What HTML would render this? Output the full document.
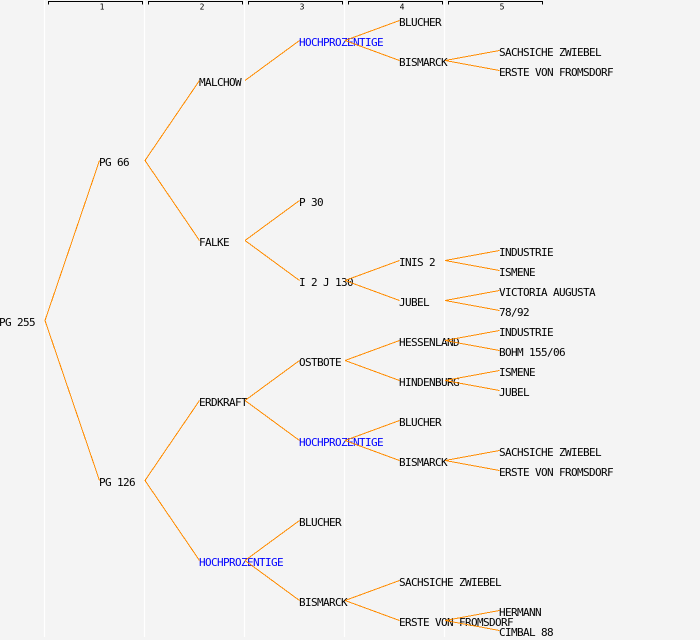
<!DOCTYPE html>
<html>
<head>
<meta charset="utf-8">
<style>
  html,body{margin:0;padding:0;background:#f4f4f4;}
  svg{display:block;}
  .t{font-family:"DejaVu Sans Mono","Liberation Mono",monospace;font-size:11px;letter-spacing:-0.62px;fill:#000;}
  .b{fill:#0000ff;}
  .h{font-family:"DejaVu Sans Mono","Liberation Mono",monospace;font-size:8px;fill:#000;}
  .e line{stroke:#ff8c00;stroke-width:1;}
</style>
</head>
<body>
<svg width="700" height="640" viewBox="0 0 700 640" xmlns="http://www.w3.org/2000/svg">
  <rect x="0" y="0" width="700" height="640" fill="#f4f4f4"/>
  <!-- column separators -->
  <g stroke="#ffffff" stroke-width="1.2">
    <line x1="44.5" y1="0" x2="44.5" y2="637"/>
    <line x1="144.5" y1="0" x2="144.5" y2="637"/>
    <line x1="244.5" y1="0" x2="244.5" y2="637"/>
    <line x1="344.5" y1="0" x2="344.5" y2="637"/>
    <line x1="444.5" y1="0" x2="444.5" y2="637"/>
  </g>
  <!-- header brackets -->
  <g fill="none" stroke="#000" stroke-width="1" shape-rendering="crispEdges">
    <path d="M48.5,4.5 V1.5 H142.5 V4.5"/>
    <path d="M148.5,4.5 V1.5 H242.5 V4.5"/>
    <path d="M248.5,4.5 V1.5 H342.5 V4.5"/>
    <path d="M348.5,4.5 V1.5 H442.5 V4.5"/>
    <path d="M448.5,4.5 V1.5 H542.5 V4.5"/>
  </g>
  <g class="h" text-anchor="middle">
    <text x="102" y="9.5">1</text>
    <text x="202" y="9.5">2</text>
    <text x="302" y="9.5">3</text>
    <text x="402" y="9.5">4</text>
    <text x="502" y="9.5">5</text>
  </g>

  <!-- node labels -->
  <g class="t">
    <text x="-1" y="326">PG 255</text>
    <text x="99" y="166">PG 66</text>
    <text x="99" y="486">PG 126</text>

    <text x="199" y="86">MALCHOW</text>
    <text x="199" y="246">FALKE</text>
    <text x="199" y="406">ERDKRAFT</text>
    <text x="199" y="566" class="t b">HOCHPROZENTIGE</text>

    <text x="299" y="46" class="t b">HOCHPROZENTIGE</text>
    <text x="299" y="206">P 30</text>
    <text x="299" y="286">I 2 J 130</text>
    <text x="299" y="366">OSTBOTE</text>
    <text x="299" y="446" class="t b">HOCHPROZENTIGE</text>
    <text x="299" y="526">BLUCHER</text>
    <text x="299" y="606">BISMARCK</text>

    <text x="399" y="26">BLUCHER</text>
    <text x="399" y="66">BISMARCK</text>
    <text x="399" y="266">INIS 2</text>
    <text x="399" y="306">JUBEL</text>
    <text x="399" y="346">HESSENLAND</text>
    <text x="399" y="386">HINDENBURG</text>
    <text x="399" y="426">BLUCHER</text>
    <text x="399" y="466">BISMARCK</text>
    <text x="399" y="586">SACHSICHE ZWIEBEL</text>
    <text x="399" y="626">ERSTE VON FROMSDORF</text>

    <text x="499" y="56">SACHSICHE ZWIEBEL</text>
    <text x="499" y="76">ERSTE VON FROMSDORF</text>
    <text x="499" y="256">INDUSTRIE</text>
    <text x="499" y="276">ISMENE</text>
    <text x="499" y="296">VICTORIA AUGUSTA</text>
    <text x="499" y="316">78/92</text>
    <text x="499" y="336">INDUSTRIE</text>
    <text x="499" y="356">BOHM 155/06</text>
    <text x="499" y="376">ISMENE</text>
    <text x="499" y="396">JUBEL</text>
    <text x="499" y="456">SACHSICHE ZWIEBEL</text>
    <text x="499" y="476">ERSTE VON FROMSDORF</text>
    <text x="499" y="616">HERMANN</text>
    <text x="499" y="636">CIMBAL 88</text>
  </g>

  <!-- edges -->
  <g class="e" shape-rendering="crispEdges">
    <line x1="45" y1="320.5" x2="99.5" y2="160.5"/>
    <line x1="45" y1="320.5" x2="99.5" y2="480.5"/>

    <line x1="145" y1="160.5" x2="199.5" y2="80.5"/>
    <line x1="145" y1="160.5" x2="199.5" y2="240.5"/>
    <line x1="145" y1="480.5" x2="199.5" y2="400.5"/>
    <line x1="145" y1="480.5" x2="199.5" y2="560.5"/>

    <line x1="245" y1="80.5" x2="299.5" y2="40.5"/>
    <line x1="245" y1="240.5" x2="299.5" y2="200.5"/>
    <line x1="245" y1="240.5" x2="299.5" y2="280.5"/>
    <line x1="245" y1="400.5" x2="299.5" y2="360.5"/>
    <line x1="245" y1="400.5" x2="299.5" y2="440.5"/>
    <line x1="245" y1="560.5" x2="299.5" y2="520.5"/>
    <line x1="245" y1="560.5" x2="299.5" y2="600.5"/>

    <line x1="345" y1="40.5" x2="399.5" y2="20.5"/>
    <line x1="345" y1="40.5" x2="399.5" y2="60.5"/>
    <line x1="345" y1="280.5" x2="399.5" y2="260.5"/>
    <line x1="345" y1="280.5" x2="399.5" y2="300.5"/>
    <line x1="345" y1="360.5" x2="399.5" y2="340.5"/>
    <line x1="345" y1="360.5" x2="399.5" y2="380.5"/>
    <line x1="345" y1="440.5" x2="399.5" y2="420.5"/>
    <line x1="345" y1="440.5" x2="399.5" y2="460.5"/>
    <line x1="345" y1="600.5" x2="399.5" y2="580.5"/>
    <line x1="345" y1="600.5" x2="399.5" y2="620.5"/>

    <line x1="445" y1="60.5" x2="499.5" y2="50.5"/>
    <line x1="445" y1="60.5" x2="499.5" y2="70.5"/>
    <line x1="445" y1="260.5" x2="499.5" y2="250.5"/>
    <line x1="445" y1="260.5" x2="499.5" y2="270.5"/>
    <line x1="445" y1="300.5" x2="499.5" y2="290.5"/>
    <line x1="445" y1="300.5" x2="499.5" y2="310.5"/>
    <line x1="445" y1="340.5" x2="499.5" y2="330.5"/>
    <line x1="445" y1="340.5" x2="499.5" y2="350.5"/>
    <line x1="445" y1="380.5" x2="499.5" y2="370.5"/>
    <line x1="445" y1="380.5" x2="499.5" y2="390.5"/>
    <line x1="445" y1="460.5" x2="499.5" y2="450.5"/>
    <line x1="445" y1="460.5" x2="499.5" y2="470.5"/>
    <line x1="445" y1="620.5" x2="499.5" y2="610.5"/>
    <line x1="445" y1="620.5" x2="499.5" y2="630.5"/>
  </g>
</svg>
</body>
</html>
